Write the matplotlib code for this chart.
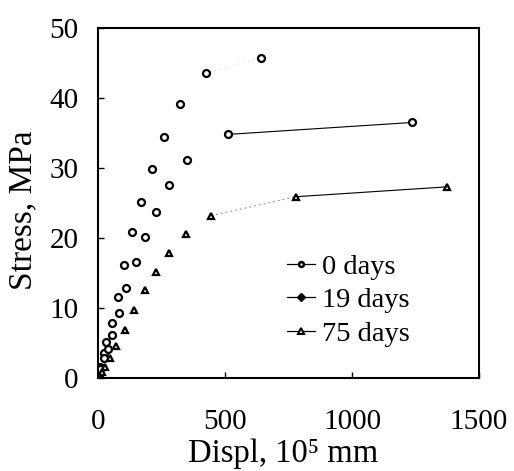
import matplotlib.pyplot as plt
from matplotlib.lines import Line2D

plt.rcParams['font.family'] = ['Liberation Serif', 'DejaVu Serif']

# Data (displacement in 10^-5 mm, stress in MPa)
x_0d = [0, 3, 9, 22, 33, 54, 77, 102, 133, 169, 214, 259, 322, 424, 641]
y_0d = [0, 0.4, 1.6, 3.5, 5.2, 7.8, 11.5, 16.2, 20.8, 25.2, 29.8, 34.4, 39.1, 43.5, 45.75]

x_19d = [0, 9, 22, 38, 55, 84, 112, 148, 183, 230, 281, 349, 513, 1236]
y_19d = [0, 1.3, 2.8, 4.2, 6.2, 9.35, 12.8, 16.6, 20.2, 23.7, 27.5, 31.1, 34.8, 36.5]

x_75d = [0, 7, 16, 29, 48, 71, 106, 143, 183, 228, 281, 345, 446, 781, 1373]
y_75d = [0, 0.2, 0.9, 1.6, 2.8, 4.6, 6.8, 9.7, 12.5, 15.1, 17.9, 20.5, 23.2, 25.9, 27.3]

labels = ["0 days", "19 days", "75 days"]

fig = plt.figure(figsize=(5.14, 4.71), dpi=100)
ax = fig.add_axes([0.1907, 0.1975, 0.7413, 0.7431])

mk = dict(linestyle='none', mfc='white', mec='black', mew=1.6, ms=5)
ax.plot(x_0d, y_0d, marker='o', **mk)
ax.plot(x_19d, y_19d, marker='o', **mk)
ax.plot(x_75d, y_75d, marker='^', **mk)

# connecting segments at the large-displacement end
ax.plot(x_0d[-2:], y_0d[-2:], color='0.8', lw=0.7, ls=(0, (1, 4)), zorder=1)
ax.plot(x_19d[-2:], y_19d[-2:], color='black', lw=0.8, zorder=1)
ax.plot(x_75d[-3:-1], y_75d[-3:-1], color='0.55', lw=0.7, ls=(0, (2, 3)), zorder=1)
ax.plot(x_75d[-2:], y_75d[-2:], color='black', lw=0.8, zorder=1)

ax.set_xlim(0, 1500)
ax.set_ylim(0, 50)
ax.set_xticks([0, 500, 1000, 1500])
ax.set_yticks([0, 10, 20, 30, 40, 50])
ax.tick_params(direction='in', length=4.5, width=1, labelsize=21)
ax.tick_params(axis='x', pad=22)
ax.tick_params(axis='y', pad=14)
for s in ax.spines.values():
    s.set_linewidth(1.5)

fig.text(283 / 514, 1 - 462 / 471, "Displ, 10\u2075 mm", fontsize=23.5, ha='center', va='baseline')
fig.text(23 / 514, 1 - 210 / 471, "Stress, MPa", fontsize=24, ha='center', va='center',
         rotation=90)

handles = [
    Line2D([], [], color='black', lw=0.9, marker='o', mfc='white', mec='black', mew=1.8, ms=3.5),
    Line2D([], [], color='black', lw=0.9, marker='D', mfc='black', mec='black', ms=4),
    Line2D([], [], color='black', lw=0.9, marker='^', mfc='white', mec='black', mew=1.5, ms=4.5),
]
ax.legend(handles, labels, loc='upper left', bbox_to_anchor=(0.495, 0.354), frameon=False,
          fontsize=20.5, handlelength=1.0, handletextpad=0.25, labelspacing=0.26,
          borderaxespad=0, borderpad=0)

fig.savefig("out.png", dpi=100)
